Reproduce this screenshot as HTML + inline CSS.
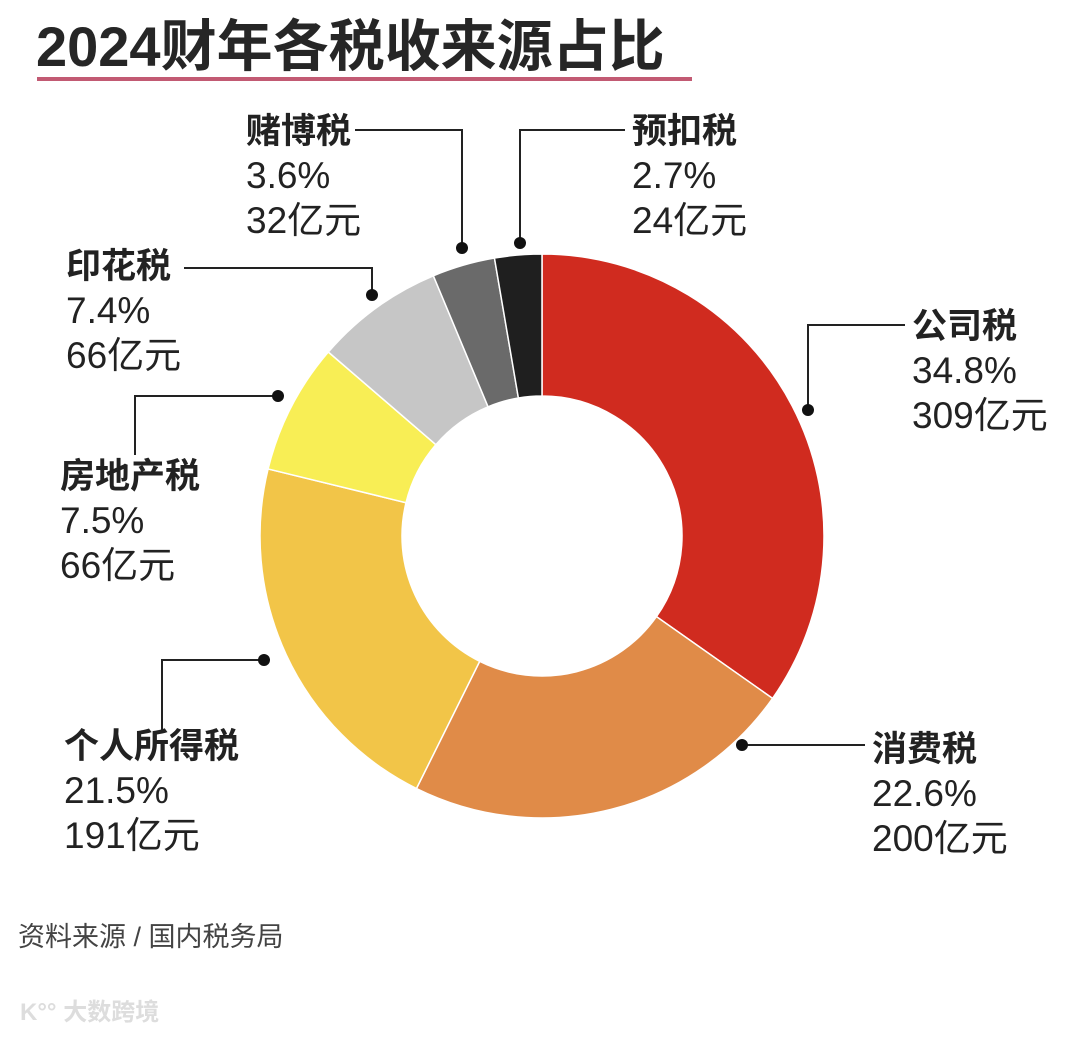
<!DOCTYPE html>
<html><head><meta charset="utf-8"><style>
body{margin:0;background:#fff;width:1080px;height:1032px;overflow:hidden;font-family:"Liberation Sans","Noto Sans CJK SC",sans-serif}
</style></head><body>
<svg width="1080" height="1032" xmlns="http://www.w3.org/2000/svg">
<text x="36" y="66" font-size="56" font-weight="bold" fill="#262626" font-family="Liberation Sans, Noto Sans CJK SC, sans-serif">2024财年各税收来源占比</text>
<rect x="37" y="77" width="655" height="4" fill="#c25a73"/>
<g id="slices"></g>
<g id="labels"></g>
<text x="18" y="946" font-size="27" fill="#444" font-family="Liberation Sans, Noto Sans CJK SC, sans-serif">资料来源 / 国内税务局</text>
<text x="20" y="1020" font-size="24" fill="#ddd" font-weight="bold" font-family="Liberation Sans, Noto Sans CJK SC, sans-serif">K°° 大数跨境</text>
</svg>
<script>
const categories=["公司税","消费税","个人所得税","房地产税","印花税","赌博税","预扣税"];
const shares=[34.8,22.6,21.5,7.5,7.4,3.6,2.7];
const amounts=["309亿元","200亿元","191亿元","66亿元","66亿元","32亿元","24亿元"];
const colors=["#d02b1f","#e08b48","#f2c548","#f8ee55","#c6c6c6","#6a6a6a","#1f1f1f"];
const NS="http://www.w3.org/2000/svg";
const cx=542,cy=536,R=282,r=140;
const total=shares.reduce((a,b)=>a+b,0);
function pt(a,rad){return [cx+rad*Math.cos(a),cy+rad*Math.sin(a)];}
let a0=-Math.PI/2;
const sg=document.getElementById('slices');
shares.forEach((v,i)=>{
  const a1=a0+v/total*2*Math.PI;
  const large=(a1-a0)>Math.PI?1:0;
  const [x0,y0]=pt(a0,R),[x1,y1]=pt(a1,R),[x2,y2]=pt(a1,r),[x3,y3]=pt(a0,r);
  const p=document.createElementNS(NS,'path');
  p.setAttribute('d',`M${x0},${y0}A${R},${R} 0 ${large} 1 ${x1},${y1}L${x2},${y2}A${r},${r} 0 ${large} 0 ${x3},${y3}Z`);
  p.setAttribute('fill',colors[i]);p.setAttribute('stroke','#fff');p.setAttribute('stroke-width','1.5');
  
  
  sg.appendChild(p);
  a0=a1;
});
const layout=[
 [912,325,[[905,325],[808,325],[808,410]]],
 [872,748,[[865,745],[742,745]]],
 [64,745,[[162,730],[162,660],[264,660]]],
 [60,475,[[135,455],[135,396],[278,396]]],
 [66,265,[[184,268],[372,268],[372,295]]],
 [246,130,[[355,130],[462,130],[462,248]]],
 [632,130,[[625,130],[520,130],[520,243]]]
];
const lg=document.getElementById('labels');
layout.forEach((L,i)=>{
  const g=document.createElementNS(NS,'g');
  
  
  const pl=document.createElementNS(NS,'polyline');
  pl.setAttribute('points',L[2].map(p=>p.join(',')).join(' '));
  pl.setAttribute('fill','none');pl.setAttribute('stroke','#222');pl.setAttribute('stroke-width','2');
  g.appendChild(pl);
  const d=L[2][L[2].length-1];
  const c=document.createElementNS(NS,'circle');
  c.setAttribute('cx',d[0]);c.setAttribute('cy',d[1]);c.setAttribute('r','6');c.setAttribute('fill','#111');
  g.appendChild(c);
  const lines=[categories[i],shares[i]+'%',amounts[i]];
  lines.forEach((t,j)=>{
    const tx=document.createElementNS(NS,'text');
    tx.setAttribute('x',L[0]);tx.setAttribute('y',L[1]+13+j*45);
    tx.setAttribute('font-size',j===0?'35':'37');tx.setAttribute('fill','#222');
    tx.setAttribute('font-family','Liberation Sans, Noto Sans CJK SC, sans-serif');
    if(j===0)tx.setAttribute('font-weight','bold');
    tx.textContent=t;
    g.appendChild(tx);
  });
  lg.appendChild(g);
});
</script>
</body></html>
